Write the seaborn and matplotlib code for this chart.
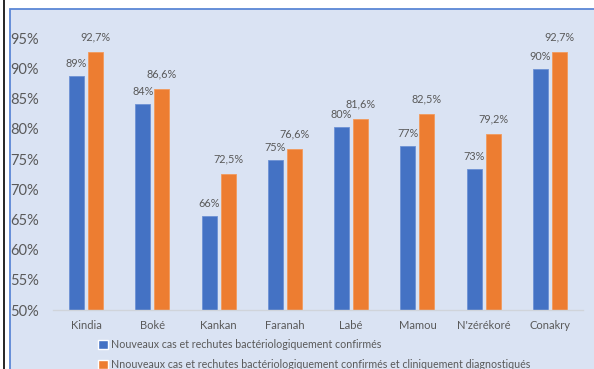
import matplotlib
matplotlib.use("Agg")
import matplotlib.pyplot as plt
from matplotlib.patches import Rectangle
from matplotlib.lines import Line2D
import seaborn as sns
import pandas as pd

regions = ["Kindia", "Boké", "Kankan", "Faranah", "Labé", "Mamou", "N'zérékoré", "Conakry"]
confirmed = [88.7, 84.1, 65.6, 74.8, 80.3, 77.2, 73.3, 89.9]
confirmed_and_clinical = [92.7, 86.6, 72.5, 76.6, 81.6, 82.5, 79.2, 92.7]
series_names = [
    "Nouveaux cas et rechutes bactériologiquement confirmés",
    "Nnouveaux cas et rechutes bactériologiquement confirmés et cliniquement diagnostiqués",
]
y_ticks = [50, 55, 60, 65, 70, 75, 80, 85, 90, 95]

BLUE = "#4472C4"
ORANGE = "#ED7D31"
PANEL = "#DAE3F3"
TEXT = "#595959"

df = pd.DataFrame({
    "region": regions * 2,
    "value": confirmed + confirmed_and_clinical,
    "series": [series_names[0]] * len(regions) + [series_names[1]] * len(regions),
})

sns.set_theme(style="white")
plt.rcParams["font.family"] = ["Lato", "DejaVu Sans"]

W, H = 594, 369
fig = plt.figure(figsize=(W / 100, H / 100), dpi=100)
fig.patch.set_facecolor("white")

# chart panel with its thin blue frame, plus the dark rule on the far left
fig.patches.append(Rectangle((9.5 / W, -0.5), 1.5, 1.5 - 9 / H,
                             transform=fig.transFigure, facecolor=PANEL,
                             edgecolor="#5B87D6", linewidth=1.3, zorder=-10))
fig.lines.append(Line2D([4 / W, 4 / W], [0, 1], transform=fig.transFigure,
                        color="black", linewidth=1.2, zorder=-5))

ax = fig.add_axes([53 / W, 1 - 310 / H, 530 / W, 271.7 / H])
ax.set_facecolor("none")

sns.barplot(data=df, x="region", y="value", hue="series",
            palette=[BLUE, ORANGE], width=0.575, gap=0.21,
            saturation=1, ax=ax, legend=True)

for patch in ax.containers[0]:
    patch.set_edgecolor("#6D92D4")
    patch.set_linewidth(0.6)
for patch in ax.containers[1]:
    patch.set_edgecolor("#F29A5C")
    patch.set_linewidth(0.6)

ax.bar_label(ax.containers[0], labels=[f"{v:.0f}%" for v in confirmed],
             padding=5, fontsize=7.8, color=TEXT)
ax.bar_label(ax.containers[1],
             labels=[f"{v:.1f}%".replace(".", ",") for v in confirmed_and_clinical],
             padding=7, fontsize=7.8, color=TEXT)

ax.set_ylim(50, 95)
ax.set_xlim(-0.5, len(regions) - 0.5)
ax.set_yticks(y_ticks)
ax.set_yticklabels([f"{t}%" for t in y_ticks])
ax.tick_params(axis="y", length=0, pad=10, labelsize=10.5, labelcolor=TEXT)
ax.tick_params(axis="x", length=0, pad=7, labelsize=8, labelcolor=TEXT)
ax.set_xlabel("")
ax.set_ylabel("")
for side in ["top", "right", "left"]:
    ax.spines[side].set_visible(False)
ax.spines["bottom"].set_color("#D0D4DA")
ax.spines["bottom"].set_linewidth(1)

handles, labels = ax.get_legend_handles_labels()
ax.get_legend().remove()
fig.legend(handles, labels, loc="upper left",
           bbox_to_anchor=(98 / W, 1 - 339 / H), frameon=False,
           fontsize=7.7, labelcolor=TEXT, handlelength=0.9, handleheight=0.9,
           handletextpad=0.3, labelspacing=0.85, borderpad=0, borderaxespad=0)

fig.savefig("out.png", dpi=100, facecolor="white")
